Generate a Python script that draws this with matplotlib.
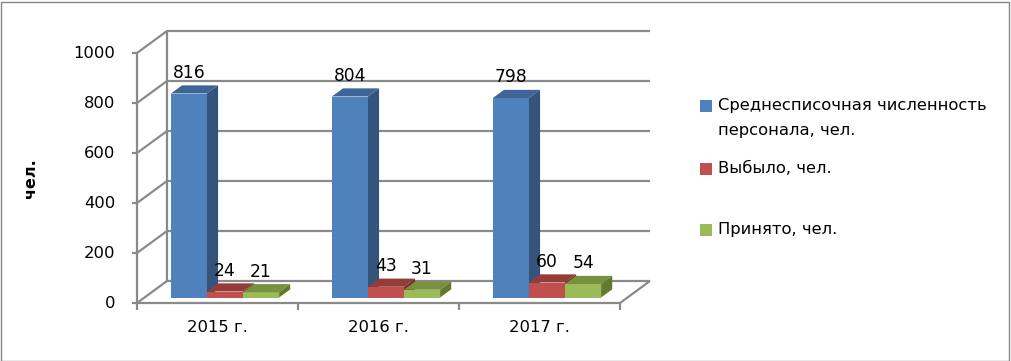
import matplotlib
matplotlib.use('Agg')
import matplotlib.pyplot as plt
from matplotlib.patches import Polygon, Rectangle
import numpy as np

years = ['2015 г.', '2016 г.', '2017 г.']
series = ['Среднесписочная численность\nперсонала, чел.', 'Выбыло, чел.', 'Принято, чел.']
avg_staff = [816, 804, 798]
left_staff = [24, 43, 60]
hired = [21, 31, 54]
yticks = [0, 200, 400, 600, 800, 1000]

front_col = ['#4F81BD', '#C0504D', '#9BBB59']
top_col = ['#3E6597', '#953B39', '#77923F']
side_col = ['#34547C', '#7B302E', '#617A30']

plt.rcParams['font.family'] = ['DejaVu Sans']
W, H = 1011, 361
fig = plt.figure(figsize=(W / 100, H / 100), dpi=100)
ax = fig.add_axes([137 / W, (H - 303) / H, (620 - 137) / W, 250 / H])
ax.set_xlim(-0.5, 2.5)
ax.set_ylim(0, 1000)
ax.axis('off')

# depth of the floor in data units
DX, DY = 30 / 161, 88

g = dict(color='#8a8a8a', lw=1.6, clip_on=False, solid_capstyle='butt', zorder=1)
for t in yticks:
    ax.plot([-0.5, -0.5 + DX, 2.5 + DX], [t, t + DY, t + DY], **g)
    ax.plot([-0.5 - 0.032, -0.5], [t, t], **g)
    ax.text(-0.5 - 0.135, t, str(t), ha='right', va='center', fontsize=11.8)
ax.plot([-0.5, -0.5], [0, 1000], **g)
ax.plot([-0.5 + DX] * 2, [DY, 1000 + DY], **g)
ax.plot([-0.5, 2.5, 2.5 + DX], [0, 0, DY], **g)
for c in range(4):
    ax.plot([c - 0.5] * 2, [0, -28], **g)
for c, yr in enumerate(years):
    ax.text(c, -96, yr, ha='center', va='center', fontsize=11.8)

# bars
w = 0.224
f0, f1 = 0.25, 0.62
ddx, ddy = (f1 - f0) * DX, (f1 - f0) * DY
base = f0 * DY
xc = np.arange(len(years))
for i, vals in enumerate([avg_staff, left_staff, hired]):
    xs = xc - 1.5 * w + i * w + f0 * DX
    z = 3 + i
    ax.bar(xs, vals, w, bottom=base, align='edge', color=front_col[i],
           clip_on=False, zorder=z)
    for x0, v in zip(xs, vals):
        x1 = x0 + w
        top = v + base
        ax.add_patch(Polygon([(x0, top), (x1, top), (x1 + ddx, top + ddy), (x0 + ddx, top + ddy)],
                             closed=True, fc=top_col[i], ec='none', clip_on=False, zorder=z))
        ax.add_patch(Polygon([(x1, base), (x1, top), (x1 + ddx, top + ddy), (x1 + ddx, base + ddy)],
                             closed=True, fc=side_col[i], ec='none', clip_on=False, zorder=z))
        ax.text(x0 + w / 2, top + 82, str(v), ha='center', va='center', fontsize=12.3, zorder=10)

# axis title
fig.text(30 / W, 1 - 178 / H, 'чел.', rotation=90, fontweight='bold', fontsize=11.5,
         ha='center', va='center')

# legend
leg_y = [106, 169, 230]
for name, col, yy in zip(series, front_col, leg_y):
    fig.patches.append(Rectangle((700 / W, 1 - (yy + 6) / H), 12 / W, 12 / H,
                                 transform=fig.transFigure, fc=col, ec='none'))
    fig.text(718 / W, 1 - (yy - 8) / H, name, ha='left', va='top', fontsize=11.8,
             linespacing=1.8)

fig.patches.append(Rectangle((0.5 / W, 0.5 / H), (W - 3) / W, (H - 2) / H,
                             transform=fig.transFigure, fill=False, ec='#868686', lw=1))

fig.savefig('out.png', dpi=100)
